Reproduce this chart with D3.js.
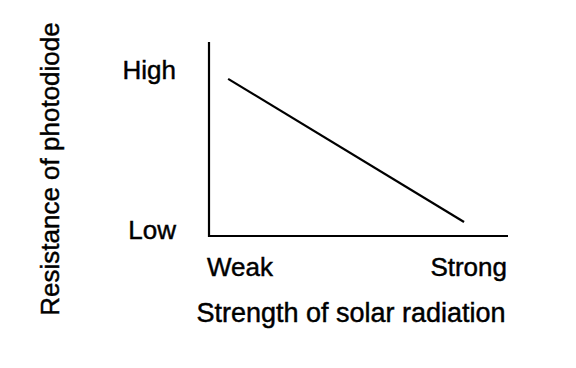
<!DOCTYPE html>
<html><head><meta charset="utf-8">
<script src="https://cdn.jsdelivr.net/npm/d3@7"></script>
<style>body{margin:0;background:#fff;}text{font-family:"Liberation Sans",Arial,sans-serif;fill:#000;stroke:#000;stroke-width:0.45;}</style>
</head><body>
<svg id="c" width="576" height="368"></svg>
<script>
const xLabels = ["Weak", "Strong"];
const yLabels = ["Low", "High"];
const lineX = [0.064, 0.853];
const lineY = [0.81, 0.072];
const xTitle = "Strength of solar radiation";
const yTitle = "Resistance of photodiode";

const svg = d3.select("#c");
const x = d3.scaleLinear().domain([0, 1]).range([209, 508]);
const y = d3.scaleLinear().domain([0, 1]).range([236, 42]);

// axes
svg.append("line").attr("x1", x(0)).attr("x2", x(0)).attr("y1", y(0) + 1).attr("y2", y(1))
  .attr("stroke", "#000").attr("stroke-width", 2.2);
svg.append("line").attr("x1", x(0) - 1).attr("x2", x(1)).attr("y1", y(0)).attr("y2", y(0))
  .attr("stroke", "#000").attr("stroke-width", 2.2);

// data line
const pts = lineX.map((v, i) => [v, lineY[i]]);
svg.append("path").datum(pts)
  .attr("d", d3.line().x(d => x(d[0])).y(d => y(d[1])))
  .attr("fill", "none").attr("stroke", "#000").attr("stroke-width", 2.2);

// y labels (baseline positions in data units)
const yPos = [-0.015, 0.81];
svg.selectAll(".yl").data(yLabels).join("text")
  .attr("x", 176).attr("y", (d, i) => y(yPos[i]))
  .attr("text-anchor", "end")
  .attr("font-size", 26).text(d => d);

// x labels
const xAnch = ["start", "end"];
svg.selectAll(".xl").data(xLabels).join("text")
  .attr("x", (d, i) => i === 0 ? x(0) - 2 : x(1) - 1).attr("y", 276)
  .attr("text-anchor", (d, i) => xAnch[i])
  .attr("font-size", 26).text(d => d);

svg.append("text").attr("x", 351).attr("y", 322).attr("text-anchor", "middle")
  .attr("font-size", 27).text(xTitle);
svg.append("text").attr("transform", "translate(59,169) rotate(-90)")
  .attr("text-anchor", "middle").attr("font-size", 26).text(yTitle);
</script>
</body></html>
